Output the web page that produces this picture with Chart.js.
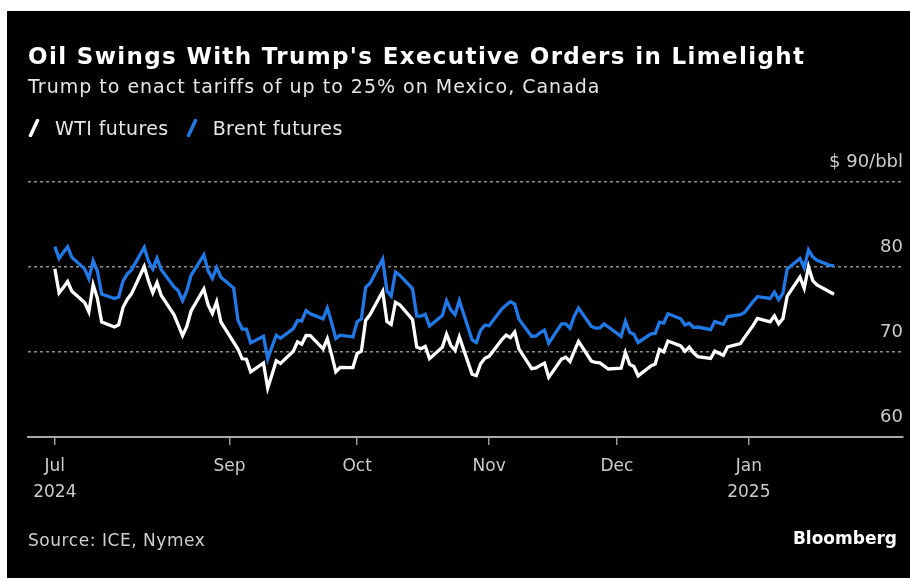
<!DOCTYPE html>
<html>
<head>
<meta charset="utf-8">
<script src="https://cdn.jsdelivr.net/npm/chart.js@4.4.1/dist/chart.umd.min.js"></script>
<style>
  html, body { margin: 0; padding: 0; background: #fff; }
  #panel { position: absolute; left: 7px; top: 11px; width: 903px; height: 567px; background: #000; }
  canvas { position: absolute; left: 0; top: 0; }
  .txt { position: absolute; font-family: 'DejaVu Sans', sans-serif; white-space: nowrap; line-height: 1; }
  #title { left: 28px; top: 45px; font-size: 23px; letter-spacing: 1.35px; font-weight: bold; color: #fff; }
  #subtitle { left: 28px; top: 77px; font-size: 19px; letter-spacing: 1px; color: #e6e6e6; }
  #legend { left: 28px; top: 119px; font-size: 19px; letter-spacing: 0.4px; color: #e6e6e6; }
  #legend .item { display: inline-block; margin-right: 17px; }
  #legend svg { vertical-align: -2px; margin-right: 15px; }
  #source { left: 28px; top: 532px; font-size: 17px; letter-spacing: 0.55px; color: #cfcfcf; }
  #brand { right: 13px; top: 530px; font-size: 17px; font-weight: bold; color: #fff; }
</style>
</head>
<body>
<div id="panel"></div>
<canvas id="chart" width="910" height="578"></canvas>
<div id="title" class="txt">Oil Swings With Trump's Executive Orders in Limelight</div>
<div id="subtitle" class="txt">Trump to enact tariffs of up to 25% on Mexico, Canada</div>
<div id="legend" class="txt"></div>
<div id="source" class="txt">Source: ICE, Nymex</div>
<div id="brand" class="txt">Bloomberg</div>
<script>
// trading days (null = no WTI settlement that day)
const dates = [
  '2024-07-22','2024-07-23','2024-07-24','2024-07-25','2024-07-26','2024-07-29','2024-07-30','2024-07-31',
  '2024-08-01','2024-08-02','2024-08-05','2024-08-06','2024-08-07','2024-08-08','2024-08-09','2024-08-12',
  '2024-08-13','2024-08-14','2024-08-15','2024-08-16','2024-08-19','2024-08-20','2024-08-21','2024-08-22',
  '2024-08-23','2024-08-26','2024-08-27','2024-08-28','2024-08-29','2024-08-30',
  '2024-09-02','2024-09-03','2024-09-04','2024-09-05','2024-09-06','2024-09-09','2024-09-10','2024-09-11',
  '2024-09-12','2024-09-13','2024-09-16','2024-09-17','2024-09-18','2024-09-19','2024-09-20','2024-09-23',
  '2024-09-24','2024-09-25','2024-09-26','2024-09-27','2024-09-30',
  '2024-10-01','2024-10-02','2024-10-03','2024-10-04','2024-10-07','2024-10-08','2024-10-09','2024-10-10',
  '2024-10-11','2024-10-14','2024-10-15','2024-10-16','2024-10-17','2024-10-18','2024-10-21','2024-10-22',
  '2024-10-23','2024-10-24','2024-10-25','2024-10-28','2024-10-29','2024-10-30','2024-10-31',
  '2024-11-01','2024-11-04','2024-11-05','2024-11-06','2024-11-07','2024-11-08','2024-11-11','2024-11-12',
  '2024-11-13','2024-11-14','2024-11-15','2024-11-18','2024-11-19','2024-11-20','2024-11-21','2024-11-22',
  '2024-11-25','2024-11-26','2024-11-27','2024-11-28','2024-11-29',
  '2024-12-02','2024-12-03','2024-12-04','2024-12-05','2024-12-06','2024-12-09','2024-12-10','2024-12-11',
  '2024-12-12','2024-12-13','2024-12-16','2024-12-17','2024-12-18','2024-12-19','2024-12-20','2024-12-23',
  '2024-12-24','2024-12-26','2024-12-27','2024-12-30','2024-12-31',
  '2025-01-02','2025-01-03','2025-01-06','2025-01-07','2025-01-08','2025-01-09','2025-01-10','2025-01-13',
  '2025-01-14','2025-01-15','2025-01-16','2025-01-17','2025-01-20','2025-01-21'
];

const wti = [
  79.78, 76.96, 77.59, 78.28, 77.16, 75.81, 74.73, 77.91,
  76.31, 73.52, 72.94, 73.20, 75.23, 76.19, 76.84, 80.06, 78.35, 76.98, 78.16, 76.65, 74.37, 73.17, 71.93, 73.01,
  74.83, 77.42, 75.53, 74.52, 75.91, 73.55,
  null, 70.34, 69.20, 69.15, 67.67, 68.71, 65.75, 67.31, 68.97, 68.65, 70.09, 71.19, 70.91, 71.95, 71.92, 70.37,
  71.56, 69.69, 67.67, 68.18, 68.17,
  69.83, 70.10, 73.71, 74.38, 77.14, 73.57, 73.24, 75.85, 75.56, 73.83, 70.58, 70.39, 70.67, 69.22, 70.56, 72.09,
  70.77, 70.19, 71.78, 67.38, 67.21, 68.61, 69.26,
  69.49, 71.47, 71.99, 71.69, 72.36, 70.38, 68.04, 68.12, 68.43, 68.70, 67.02, 69.16, 69.39, 68.87, 70.10, 71.24,
  68.94, 68.77, 68.72, null, 68.00,
  68.10, 69.94, 68.54, 68.30, 67.20, 68.37, 68.59, 70.29, 70.02, 71.29, 70.71, 70.08, 70.58, 69.91, 69.46, 69.24,
  70.10, 69.62, 70.60, 70.99, 71.72,
  73.13, 73.96, 73.56, 74.25, 73.32, 73.92, 76.57, 78.82, 77.50, 80.04, 78.40, 77.90, null, 76.80
];

const brent = [
  82.40, 81.01, 81.71, 82.37, 81.13, 79.78, 78.63, 80.72,
  79.52, 76.81, 76.30, 76.48, 78.33, 79.16, 79.66, 82.30, 80.69, 79.76, 81.04, 79.68, 77.66, 77.20, 76.05, 77.22,
  79.02, 81.43, 79.55, 78.65, 79.94, 78.80,
  77.52, 73.75, 72.70, 72.69, 71.06, 71.84, 69.19, 70.61, 71.97, 71.61, 72.75, 73.70, 73.65, 74.88, 74.49, 73.90,
  75.17, 73.46, 71.60, 71.98, 71.77,
  73.56, 73.90, 77.62, 78.05, 80.93, 77.18, 76.58, 79.40, 79.04, 77.46, 74.25, 74.22, 74.45, 73.06, 74.29, 76.04,
  74.96, 74.38, 76.05, 71.42, 71.12, 72.55, 73.16,
  73.10, 75.08, 75.53, 75.92, 75.63, 73.87, 71.83, 71.89, 72.28, 72.56, 71.04, 73.30, 73.31, 72.81, 74.23, 75.17,
  73.01, 72.81, 72.83, 73.30, 72.94,
  71.83, 73.62, 72.31, 72.09, 71.12, 72.14, 72.19, 73.52, 73.41, 74.49, 73.91, 73.19, 73.39, 72.88, 72.94, 72.63,
  73.58, 73.26, 74.17, 74.39, 74.64,
  75.93, 76.51, 76.30, 77.05, 76.16, 76.92, 79.76, 81.01, 79.92, 82.03, 81.20, 80.80, 80.20, 80.15
];

const tickDates = ['2024-07-22', '2024-09-01', '2024-10-01', '2024-11-01', '2024-12-01', '2025-01-01'];
const tickLabels = [['Jul', '2024'], 'Sep', 'Oct', 'Nov', 'Dec', ['Jan', '2025']];
const yTicks = [60, 70, 80, 90];
const yTickLabels = ['60', '70', '80', '$ 90/bbl'];

const dayOf = s => (Date.parse(s) - Date.parse(dates[0])) / 86400000;
const toPoints = vals => dates.map((d, i) => ({ x: dayOf(d), y: vals[i] }));

Chart.defaults.font.family = "'DejaVu Sans', sans-serif";
Chart.defaults.color = '#cccccc';

const series = [
  { label: 'WTI futures', color: '#ffffff', values: wti },
  { label: 'Brent futures', color: '#1f7ae8', values: brent }
];

const chart = new Chart(document.getElementById('chart'), {
  type: 'line',
  data: {
    datasets: series.map(s => ({
      label: s.label,
      data: toPoints(s.values),
      borderColor: s.color,
      backgroundColor: s.color,
      borderWidth: 3.3,
      pointRadius: 0,
      tension: 0,
      spanGaps: true,
      fill: false
    }))
  },
  options: {
    responsive: false,
    animation: false,
    layout: { padding: { left: 28, right: 7, top: 182, bottom: 0 } },
    plugins: {
      legend: { display: false },
      tooltip: { enabled: false }
    },
    scales: {
      x: {
        type: 'linear',
        min: -6.3,
        max: 199.2,
        afterBuildTicks: scale => {
          scale.ticks = tickDates.map(d => ({ value: dayOf(d) }));
        },
        afterFit: scale => { scale.height = 141; },
        grid: {
          drawOnChartArea: false,
          drawTicks: true,
          tickLength: 8,
          color: '#9a9a9a',
          lineWidth: 1.5
        },
        border: { display: true, color: '#a8a8a8', width: 2 },
        ticks: {
          autoSkip: false,
          maxRotation: 0,
          padding: 9,
          color: '#cccccc',
          font: { size: 17, lineHeight: 1.5 },
          callback: (value, index) => tickLabels[index]
        }
      },
      y: {
        position: 'right',
        min: 60,
        max: 90,
        afterBuildTicks: scale => {
          scale.ticks = yTicks.map(v => ({ value: v }));
        },
        afterFit: scale => { scale.width = 0; },
        grid: {
          drawTicks: false,
          lineWidth: 1.5,
          color: ctx => (ctx.tick && ctx.tick.value === 60 ? 'rgba(0,0,0,0)' : '#8c8c8c')
        },
        border: { display: false, dash: [3, 3] },
        ticks: {
          mirror: true,
          padding: 0,
          labelOffset: -20,
          color: '#cccccc',
          font: { size: 18 },
          callback: (value, index) => yTickLabels[index]
        }
      }
    }
  }
});

// html legend built from the datasets
const legend = document.getElementById('legend');
legend.innerHTML = chart.data.datasets.map(ds =>
  '<span class="item"><svg width="12" height="18"><line x1="2.5" y1="16.5" x2="9.5" y2="1.5" stroke="' +
  ds.borderColor + '" stroke-width="3.5" stroke-linecap="round"/></svg>' + ds.label + '</span>'
).join('');
</script>
</body>
</html>
